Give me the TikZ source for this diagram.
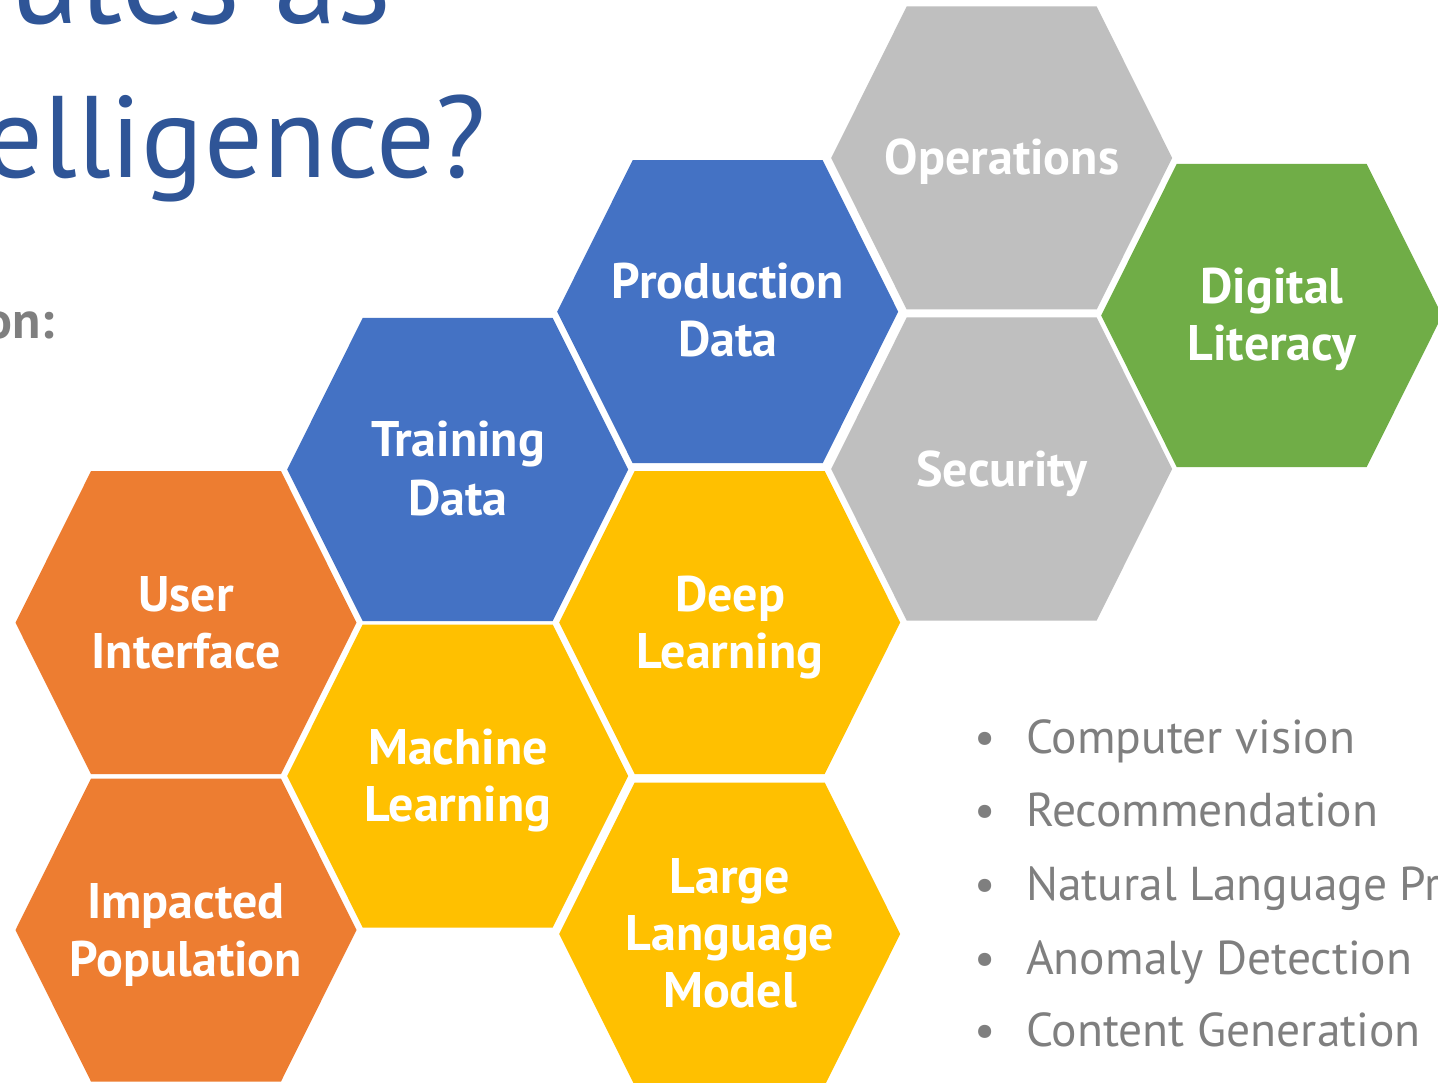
\documentclass[tikz,border=0pt]{standalone}
\usepackage{fontspec}
\setmainfont{PT Sans}
\definecolor{hexorange}{HTML}{ED7D31}
\definecolor{hexblue}{HTML}{4472C4}
\definecolor{hexyellow}{HTML}{FFC000}
\definecolor{hexgray}{HTML}{BFBFBF}
\definecolor{hexgreen}{HTML}{70AD47}
\definecolor{titleblue}{HTML}{2F5597}
\definecolor{textgray}{HTML}{7F7F7F}
\newcommand\hexcell[3]{%
  \fill[#3,shift={(#1,#2)}] (-170.5,0) -- (-95,-151.5) -- (95,-151.5) -- (170.5,0)
    -- (95,151.5) -- (-95,151.5) -- cycle;}
\tikzset{
  hexlabel/.style={font=\bfseries\fontsize{50}{58}\selectfont, text=white, anchor=base, inner sep=0pt},
  titletext/.style={font=\fontsize{116}{136}\selectfont, text=titleblue, anchor=base east, inner sep=0pt},
  bullettext/.style={font=\fontsize{47.5}{56}\selectfont, text=textgray, anchor=base west, inner sep=0pt},
  bulletdot/.style={font=\fontsize{47}{56}\selectfont, text=textgray, anchor=base, inner sep=0pt},
}
\begin{document}
\begin{tikzpicture}[x=1pt,y=-1pt]
\useasboundingbox (0,0) rectangle (1438,1083);
\clip (0,0) rectangle (1438,1083);
\fill[white] (0,0) rectangle (1438,1083);

% title fragments
\node[titletext, font=\fontsize{128}{150}\selectfont] (t1) at (392,24) {utes as};
\node[titletext] (t2) at (486,178) {elligence?};
\node[font=\bfseries\fontsize{52}{60}\selectfont, text=textgray, anchor=base east, inner sep=0pt] (t3) at (55,339) {on:};

% hexagons
\hexcell{186}{622.7}{hexorange}
\hexcell{186}{930}{hexorange}
\hexcell{457.7}{469.5}{hexblue}
\hexcell{457.7}{776}{hexyellow}
\hexcell{727.7}{311.7}{hexblue}
\hexcell{729.7}{622.5}{hexyellow}
\hexcell{729.7}{934}{hexyellow}
\hexcell{1001.7}{158}{hexgray}
\hexcell{1001.7}{469}{hexgray}
\hexcell{1271.7}{315.5}{hexgreen}

% labels
\node[hexlabel] (ui1) at (186,611.7) {User};
\node[hexlabel] (ui2) at (186,668) {Interface};
\node[hexlabel] (ip1) at (186,918.3) {Impacted};
\node[hexlabel] (ip2) at (186,976) {Population};
\node[hexlabel] (td1) at (458,456.7) {Training};
\node[hexlabel] (td2) at (458,515) {Data};
\node[hexlabel] (ml1) at (458,764) {Machine};
\node[hexlabel] (ml2) at (458,821.7) {Learning};
\node[hexlabel] (pd1) at (728,298.3) {Production};
\node[hexlabel] (pd2) at (728,356) {Data};
\node[hexlabel] (dl1) at (730,611) {Deep};
\node[hexlabel] (dl2) at (730,668.3) {Learning};
\node[hexlabel] (lm1) at (730,893.3) {Large};
\node[hexlabel] (lm2) at (730,950.7) {Language};
\node[hexlabel] (lm3) at (730,1007.3) {Model};
\node[hexlabel] (op1) at (1002,175) {Operations};
\node[hexlabel] (se1) at (1002,486) {Security};
\node[hexlabel] (dg1) at (1272,303.3) {Digital};
\node[hexlabel] (dg2) at (1272,360.7) {Literacy};

% bullet list
\node[bulletdot] (b1) at (985,753.3) {•};
\node[bullettext] (l1) at (1026,753.3) {Computer vision};
\node[bulletdot] (b2) at (985,826.7) {•};
\node[bullettext] (l2) at (1026,826.7) {Recommendation};
\node[bulletdot] (b3) at (985,900.7) {•};
\node[bullettext] (l3) at (1026,900.7) {Natural Language Pr};
\node[bulletdot] (b4) at (985,974.3) {•};
\node[bullettext] (l4) at (1026,974.3) {Anomaly Detection};
\node[bulletdot] (b5) at (985,1046.7) {•};
\node[bullettext] (l5) at (1026,1046.7) {Content Generation};
\end{tikzpicture}
\end{document}
